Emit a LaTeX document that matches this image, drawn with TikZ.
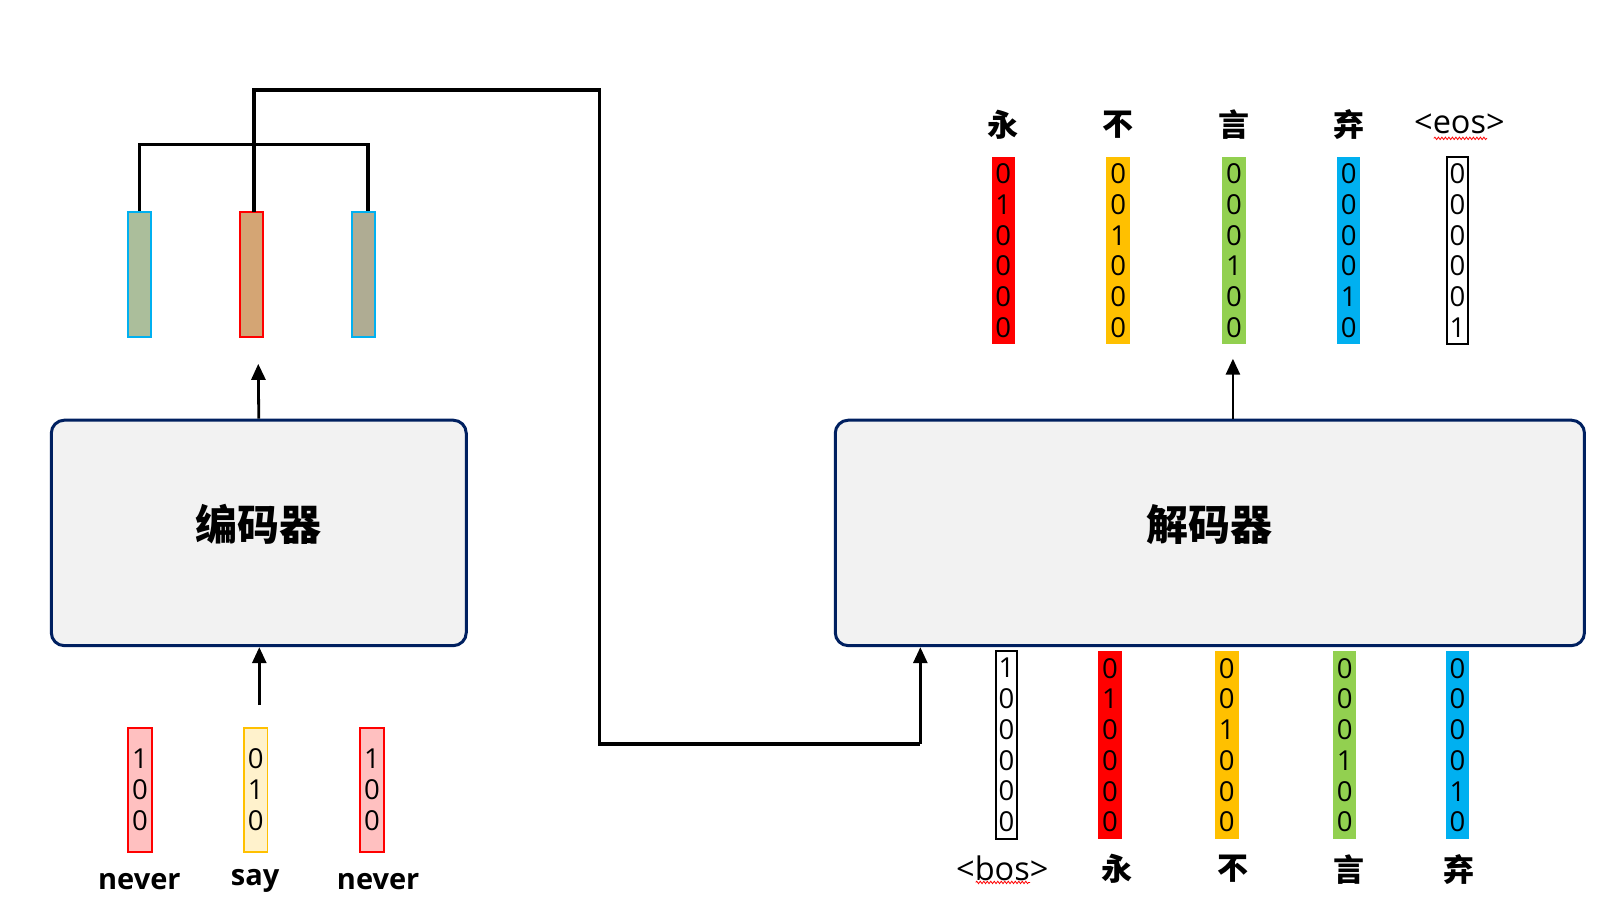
\documentclass[tikz,border=0pt]{standalone}
\usepackage{fontspec}
\newfontfamily\cjk{Noto Sans CJK SC}
\newfontfamily\lat{Open Sans}
\usetikzlibrary{arrows.meta,decorations.pathmorphing}
\definecolor{navy}{HTML}{002060}
\definecolor{boxfill}{HTML}{F2F2F2}
\definecolor{hAfill}{HTML}{ABBE9B}
\definecolor{hBfill}{HTML}{D4A574}
\definecolor{hCfill}{HTML}{AFAC93}
\definecolor{cyanb}{HTML}{00B0F0}
\definecolor{pinkf}{HTML}{FFC0C0}
\definecolor{creamf}{HTML}{FFF2CC}
\definecolor{vred}{HTML}{FF0000}
\definecolor{vorange}{HTML}{FFC000}
\definecolor{vgreen}{HTML}{92D050}
\definecolor{vblue}{HTML}{00B0F0}
\begin{document}
\begin{tikzpicture}[x=1.025pt,y=-1.025pt,
  blk/.style={draw=navy,line width=3pt,fill=boxfill,rounded corners=13pt,inner sep=0,minimum height=225.5pt},
  title/.style={font=\cjk\bfseries\fontsize{42}{48}\selectfont,inner sep=0},
  hid/.style={rectangle,line width=2pt,inner sep=0,minimum width=23pt,minimum height=125pt},
  vec/.style={rectangle,inner sep=0,minimum width=23.5pt,align=center,font=\lat\fontsize{27.5}{30.75}\selectfont},
  vin/.style={vec,line width=1.8pt,minimum height=124pt},
  vout/.style={vec,minimum height=187.5pt},
  wlab/.style={font=\lat\bfseries\fontsize{29}{32}\selectfont,inner sep=0},
  clab/.style={font=\cjk\bfseries\fontsize{31}{34}\selectfont,inner sep=0},
  elab/.style={font=\lat\fontsize{32.5}{36}\selectfont,inner sep=0},
  squig/.style={draw=red,line width=0.8pt,decorate,decoration={snake,amplitude=1.2pt,segment length=3.5pt}},
  arr/.style={line width=2.8pt,-{Triangle[length=16pt,width=14pt]}},
  tree/.style={line width=3.4pt}]
\useasboundingbox (0,0) rectangle (1568,896);
% blocks
\node[blk,minimum width=415pt] (enc) at (252.5,520) {};
\node[title] (enct) at (252,512) {编码器};
\node[blk,minimum width=749.3pt] (dec) at (1180.5,520) {};
\node[title] (dect) at (1180,512) {解码器};
% hidden states
\node[hid,draw=cyanb,fill=hAfill] (h1) at (136,268) {};
\node[hid,draw=vred,fill=hBfill] (h2) at (245.5,268) {};
\node[hid,draw=cyanb,fill=hCfill] (h3) at (354.5,268) {};
% encoder inputs
\node[vin,draw=vred,fill=pinkf] (e1) at (136.5,770.5) {1\\0\\0};
\node[vin,draw=vorange,fill=creamf] (e2) at (249.5,770.5) {0\\1\\0};
\node[vin,draw=vred,fill=pinkf] (e3) at (363,770.5) {1\\0\\0};
\node[wlab] (l1) at (136,860) {never};
\node[wlab] (l2) at (249,860) {say};
\node[wlab] (l3) at (369,860) {never};
% decoder outputs
\node[vout,fill=vred] (o1) at (979,244.5) {0\\1\\0\\0\\0\\0};
\node[vout,fill=vorange] (o2) at (1091,244.5) {0\\0\\1\\0\\0\\0};
\node[vout,fill=vgreen] (o3) at (1204,244.5) {0\\0\\0\\1\\0\\0};
\node[vout,fill=vblue] (o4) at (1316,244.5) {0\\0\\0\\0\\1\\0};
\node[vout,draw=black,line width=1.8pt,fill=white,minimum width=21pt] (o5) at (1422,244.5) {0\\0\\0\\0\\0\\1};
\node[clab] (t1) at (979,122) {永};
\node[clab] (t2) at (1091,122) {不};
\node[clab] (t3) at (1204,122) {言};
\node[clab] (t4) at (1316,122) {弃};
\node[elab] (t5) at (1424,121) {<eos>};
% decoder inputs
\node[vout,draw=black,line width=1.8pt,fill=white,minimum width=21pt] (d1) at (982,727) {1\\0\\0\\0\\0\\0};
\node[vout,fill=vred] (d2) at (1083,727) {0\\1\\0\\0\\0\\0};
\node[vout,fill=vorange] (d3) at (1197,727) {0\\0\\1\\0\\0\\0};
\node[vout,fill=vgreen] (d4) at (1312,727) {0\\0\\0\\1\\0\\0};
\node[vout,fill=vblue] (d5) at (1422,727) {0\\0\\0\\0\\1\\0};
\node[elab] (b1) at (978,847) {<bos>};
\node[clab] (b2) at (1090,848) {永};
\node[clab] (b3) at (1203,848) {不};
\node[clab] (b4) at (1316,848) {言};
\node[clab] (b5) at (1424,848) {弃};
% spell-check underlines
\coordinate (sqa) at (1399,135);
\coordinate (sqb) at (1451,135);
\coordinate (sqc) at (952,861);
\coordinate (sqd) at (1005,861);
\path[squig] (sqa) -- (sqb);
\path[squig] (sqc) -- (sqd);
% connectors
\coordinate (encOut) at (252,355);
\coordinate (encIn) at (253,688);
\coordinate (decOut) at (1203,350);
\coordinate (ta) at (136,141);
\coordinate (tb) at (359,141);
\coordinate (hb) at (248,207);
\coordinate (tt) at (248,88);
\coordinate (c1) at (585,88);
\coordinate (c2) at (585,726);
\coordinate (c3) at (898,726);
\draw[arr] (enc.north) -- (encOut);
\draw[arr] (encIn) -- (encIn |- enc.south);
\draw[arr] (decOut |- dec.north) -- (decOut);
\draw[tree] (h1.north -| ta) -- (ta) -- (tb) -- (tb |- h3.north);
\draw[tree] (hb) -- (tt) -- (c1) -- (c2) -- (c3);
\draw[arr] (c3) -- (c3 |- dec.south);
\end{tikzpicture}
\end{document}
